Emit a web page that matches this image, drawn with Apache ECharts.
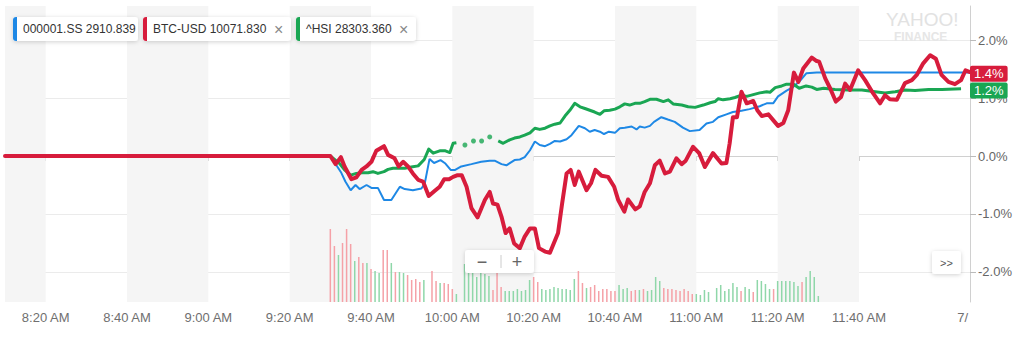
<!DOCTYPE html>
<html><head><meta charset="utf-8">
<script src="https://cdn.jsdelivr.net/npm/echarts@6/dist/echarts.min.js"></script>
<style>html,body{margin:0;padding:0;background:#fff;overflow:hidden}#c{width:1024px;height:346px}</style>
</head><body><div id="c"></div>
<script>
// ---- data (times in minutes after midnight, values in % change) ----
const xMin = 490, xMax = 727.3;
const xTicks = [500,520,540,560,580,600,620,640,660,680,700];
const tickLabels = ['8:20 AM','8:40 AM','9:00 AM','9:20 AM','9:40 AM','10:00 AM','10:20 AM','10:40 AM','11:00 AM','11:20 AM','11:40 AM'];
const edgeLabelAt = 725.5, edgeLabel = '7/';
const yTickLabels = [-2,-1,0,1,2];

const legendNames = ['000001.SS','BTC-USD','^HSI'];
const legendPrices = ['2910.839','10071.830','28303.360'];

const sseLine = [[570,0],[572.7,-0.29],[573.7,-0.44],[575.0,-0.59],[576.2,-0.50],[577.2,-0.57],[578.9,-0.50],[580.1,-0.55],[581.7,-0.55],[583.2,-0.76],[585.0,-0.76],[587.1,-0.53],[588.3,-0.57],[590.3,-0.59],[592.4,-0.56],[593.2,-0.48],[594.4,-0.05],[595.5,-0.12],[597.1,-0.07],[598.3,-0.13],[599.6,-0.24],[600.7,-0.24],[602.2,-0.18],[604.7,-0.14],[607.1,-0.10],[609.2,-0.08],[610.4,-0.08],[612.1,-0.14],[613.3,-0.16],[615.3,-0.07],[616.6,-0.06],[617.8,-0.02],[619.1,0.10],[620.3,0.25],[621.5,0.19],[622.8,0.17],[624.0,0.21],[625.2,0.26],[626.5,0.25],[628.1,0.29],[629.3,0.36],[631.1,0.52],[632.6,0.48],[633.8,0.42],[635.0,0.45],[636.3,0.42],[637.3,0.38],[638.5,0.42],[640.0,0.40],[641.2,0.48],[642.4,0.49],[644.1,0.51],[645.3,0.46],[646.1,0.51],[647.3,0.49],[648.6,0.52],[649.6,0.59],[651.4,0.67],[653.0,0.63],[654.7,0.59],[656.7,0.49],[658.4,0.43],[660.8,0.45],[662.5,0.56],[664.1,0.59],[665.4,0.67],[667.4,0.72],[669.0,0.76],[671.1,0.78],[673.1,0.81],[675.6,0.86],[677.3,0.91],[678.9,0.91],[680.1,1.03],[682.2,1.13],[683.8,1.19],[685.5,1.30],[687.1,1.43],[689.6,1.44],[727.3,1.44]];

const hsiLine = [[570,0],[572.3,-0.13],[573.5,-0.24],[575.0,-0.33],[576.4,-0.30],[577.8,-0.29],[579.3,-0.29],[580.5,-0.27],[581.7,-0.30],[583.2,-0.27],[584.2,-0.23],[585.4,-0.21],[586.8,-0.21],[588.3,-0.21],[589.9,-0.19],[591.6,-0.17],[593.1,-0.06],[594.2,0.12],[595.3,0.05],[596.9,0.09],[598.3,0.09],[599.4,0.06],[600.2,0.22],[601.0,0.23],[603.1,null],[611.3,0.26],[612.5,0.22],[614.1,0.28],[615.3,0.31],[616.6,0.33],[617.8,0.36],[619.1,0.40],[620.3,0.48],[621.5,0.46],[622.8,0.48],[624.0,0.52],[625.2,0.55],[626.5,0.57],[627.7,0.69],[628.9,0.79],[630.1,0.91],[631.4,0.85],[632.6,0.82],[633.8,0.79],[635.0,0.76],[636.3,0.72],[637.3,0.78],[638.7,0.79],[640.0,0.81],[641.2,0.85],[642.4,0.90],[643.6,0.88],[644.9,0.91],[646.1,0.91],[647.3,0.94],[648.6,0.98],[650.2,0.98],[651.9,0.94],[653.1,0.97],[654.3,0.90],[656.4,0.88],[658.0,0.85],[659.7,0.84],[661.7,0.88],[663.4,0.92],[664.6,0.94],[665.4,0.99],[666.6,0.97],[668.3,0.99],[669.5,1.01],[671.1,1.05],[672.4,1.03],[674.0,1.06],[675.6,1.09],[677.3,1.11],[678.1,1.10],[679.4,1.18],[681.0,1.21],[682.2,1.24],[683.9,1.24],[685.3,1.17],[687.0,1.21],[688.4,1.19],[689.6,1.15],[691.3,1.17],[694.1,1.15],[697.4,1.14],[700.7,1.14],[704.0,1.11],[706.4,1.09],[708.9,1.11],[711.4,1.14],[713.8,1.13],[717.1,1.15],[720.4,1.15],[725.1,1.16]];
const hsiDots = [[603.1,0.19],[605.2,0.26],[607.2,0.26],[609.2,0.33]];

const btcLine = [[490,0],[570,0],[571.3,-0.14],[572.6,-0.02],[573.5,-0.18],[575.2,-0.40],[576.4,-0.37],[577.7,-0.24],[578.9,-0.18],[580.1,-0.10],[581.3,0.09],[583.2,0.17],[584.2,0.02],[585.8,-0.04],[586.8,-0.18],[587.9,-0.10],[589.1,-0.18],[590.3,-0.30],[591.6,-0.41],[592.8,-0.44],[594.2,-0.69],[595.7,-0.60],[596.9,-0.53],[598.0,-0.40],[599.2,-0.40],[600.2,-0.36],[601.3,-0.33],[602.3,-0.33],[603.5,-0.53],[604.7,-0.90],[606.2,-1.06],[608.0,-0.76],[609.2,-0.62],[610.0,-0.82],[611.1,-0.84],[612.1,-1.05],[613.1,-1.33],[614.1,-1.25],[615.2,-1.51],[616.6,-1.59],[617.8,-1.39],[619.1,-1.25],[620.3,-1.25],[621.3,-1.59],[622.8,-1.65],[624.0,-1.67],[626.0,-1.33],[627.0,-0.82],[628.1,-0.30],[629.1,-0.24],[630.1,-0.50],[631.1,-0.27],[633.0,-0.59],[634.1,-0.47],[635.2,-0.24],[636.7,-0.34],[638.3,-0.36],[639.8,-0.53],[640.8,-0.76],[642.3,-0.96],[643.2,-0.75],[645.0,-0.92],[646.1,-0.87],[647.3,-0.62],[648.6,-0.47],[649.8,-0.16],[651.0,-0.08],[652.3,-0.30],[653.5,-0.27],[655.1,-0.04],[656.4,-0.14],[657.4,-0.08],[659.2,0.16],[660.7,0.05],[662.1,-0.19],[664.1,0.05],[666.2,-0.13],[667.4,-0.12],[668.2,0.22],[669.0,0.67],[670.0,0.67],[671.1,1.11],[672.4,0.91],[674.0,0.95],[675.0,0.79],[676.1,0.69],[677.7,0.72],[678.9,0.62],[680.1,0.52],[681.4,0.57],[682.6,0.79],[684.0,1.44],[685.1,1.28],[686.3,1.51],[688.4,1.70],[689.6,1.64],[690.2,1.63],[691.7,1.34],[692.9,1.17],[694.3,0.94],[695.6,1.02],[696.6,1.25],[697.8,1.14],[699.8,1.48],[701.5,1.31],[703.5,1.08],[705.2,0.91],[706.4,1.05],[707.6,0.98],[709.3,0.97],[711.3,1.26],[713.0,1.31],[714.2,1.40],[715.8,1.60],[717.5,1.74],[718.9,1.68],[720.3,1.40],[722.0,1.28],[723.6,1.24],[725.1,1.31],[726.2,1.48],[727.3,1.45]];

// volume of 000001.SS, one bar per minute from 9:30 (570)
const volStart = 570;
const volume = [73,56,47,59,73,58,41,45,39,39,33,31,29,52,52,39,30,30,29,27,22,23,20,22,0,31,21,19,19,18,13,8,0,38,35,30,25,32,28,26,12,29,15,11,11,11,13,11,12,22,25,20,13,12,13,15,14,13,13,12,23,31,19,14,15,17,11,13,13,11,11,17,13,14,11,12,12,13,11,12,25,21,14,13,13,12,11,13,11,8,8,7,12,10,0,14,17,11,13,19,15,11,15,13,10,22,21,18,13,13,21,21,21,21,20,16,20,25,31,25,6];
const volDir = 'ddudddudduduudduduudddduudduddduuuuuuuuuddduuuuuuudduuuuuuuuudduddddddduuudduduuuudddddddduuuuuuuuuuuduuduuuuduuuuuuduuuud';

const badgeValues = [1.42, 1.13];
const badgeTexts = ['1.4%','1.2%'];

// ---- build ----
const COL = {blue:'#1e88e5', red:'#d71c3c', green:'#1aa653'};
const FONT = '"Liberation Sans", Arial, Helvetica, sans-serif';
const TOP = 100;

const bandEdges = [xMin].concat(xTicks);
const bands = [];
for (let i = 0; i < bandEdges.length - 1; i += 2) bands.push([{xAxis: bandEdges[i]}, {xAxis: bandEdges[i+1]}]);

const volData = volume.map((v, i) => ({value: [volStart + i, v], itemStyle: {color: volDir[i] === 'u' ? '#8fd7a9' : '#f5a1a7'}}));

const shadowBox = (w, h) => ({type:'rect', z:TOP, shape:{x:0,y:0,width:w,height:h,r:3}, style:{fill:'#fff', shadowBlur:4, shadowColor:'rgba(0,0,0,0.18)', shadowOffsetY:1}});

function chip(x, w, color, name, price, closable) {
  const ch = [
    shadowBox(w, 24),
    {type:'rect', z:TOP+1, shape:{x:0,y:0,width:4,height:24,r:[3,0,0,3]}, style:{fill:color}},
    {type:'text', z:TOP+1, x:10, y:12, style:{text: name + ' ' + price, font:'12px ' + FONT, fill:'#333', verticalAlign:'middle'}}
  ];
  if (closable) ch.push({type:'text', z:TOP+1, x:w-17, y:12, style:{text:'\u00d7', font:'16px ' + FONT, fill:'#888', verticalAlign:'middle'}});
  return {type:'group', x:x, y:17, z:TOP, children:ch};
}

function badge(value, text, color) {
  return {silent:true, symbol:'none', lineStyle:{color:'rgba(0,0,0,0)', width:1}, data:[{yAxis:value}],
    label:{show:true, position:'end', distance:0, formatter:text, backgroundColor:color, color:'#fff', fontSize:13, padding:[2,4,1,4], borderRadius:2}};
}

const chart = echarts.init(document.getElementById('c'), null, {renderer:'svg'});
chart.setOption({
  animation:false,
  textStyle:{fontFamily:FONT},
  grid:{left:5, right:54, top:6, bottom:44},
  xAxis:[{
    type:'value', min:xMin, max:xMax,
    splitLine:{show:false},
    axisLine:{show:true, lineStyle:{color:'#d0d0d0'}},
    axisTick:{show:true, customValues:xTicks, length:5, lineStyle:{color:'#d0d0d0'}},
    axisLabel:{customValues:xTicks.concat([edgeLabelAt]), color:'#6f6f6f', fontSize:13, margin:9,
      formatter:(v)=>{ const i = xTicks.indexOf(v); return i >= 0 ? tickLabels[i] : (Math.abs(v-edgeLabelAt)<0.01 ? edgeLabel : ''); }}
  }],
  yAxis:[{
    type:'value', position:'right', min:-2.52, max:2.59,
    axisLine:{show:true, lineStyle:{color:'#d0d0d0'}},
    axisTick:{show:true, length:6, lineStyle:{color:'#bbb'}, customValues:yTickLabels},
    axisLabel:{customValues:yTickLabels, color:'#666', fontSize:13, margin:8,
      formatter:(v)=>v.toFixed(1)+'%'},
    splitLine:{show:true, lineStyle:{color:'#ebebeb'}}
  },{
    type:'value', min:0, max:296, show:false
  }],
  series:[
    {type:'line', data:[], z:1, silent:true,
     markArea:{silent:true, itemStyle:{color:'#f5f5f5'}, data:bands}},
    {type:'bar', yAxisIndex:1, data:volData, barWidth:1.5, z:2, silent:true},
    {type:'line', name:'000001.SS', data:sseLine, symbol:'none', z:3, lineStyle:{color:COL.blue, width:2}},
    {type:'line', name:'^HSI', data:hsiLine, symbol:'none', z:4, connectNulls:false, lineStyle:{color:COL.green, width:3, join:'round'},
     markLine:badge(badgeValues[1], badgeTexts[1], COL.green)},
    {type:'scatter', data:hsiDots, symbolSize:5, z:4, itemStyle:{color:COL.green}},
    {type:'line', name:'BTC-USD', data:btcLine, symbol:'none', z:5, lineStyle:{color:COL.red, width:4, join:'round', cap:'round'},
     markLine:badge(badgeValues[0], badgeTexts[0], COL.red)}
  ],
  graphic:[
    {type:'text', x:886, y:19.5, z:TOP, style:{text:'YAHOO!', font:'19px ' + FONT, fill:'#e2e2e2', verticalAlign:'middle'}},
    {type:'text', x:894, y:36.5, z:TOP, style:{text:'FINANCE', font:'bold 12px ' + FONT, fill:'#e6e6e6', verticalAlign:'middle'}},
    chip(13, 125, COL.blue, legendNames[0], legendPrices[0], false),
    chip(143, 148, COL.red, legendNames[1], legendPrices[1], true),
    chip(296, 120, COL.green, legendNames[2], legendPrices[2], true),
    {type:'group', x:465, y:250, z:TOP, children:[
      shadowBox(69, 23),
      {type:'text', z:TOP+1, x:17, y:11.5, style:{text:'\u2212', font:'18px ' + FONT, fill:'#666', align:'center', verticalAlign:'middle'}},
      {type:'line', z:TOP+1, shape:{x1:36,y1:5,x2:36,y2:18}, style:{stroke:'#ccc', lineWidth:1}},
      {type:'text', z:TOP+1, x:52, y:11.5, style:{text:'+', font:'18px ' + FONT, fill:'#666', align:'center', verticalAlign:'middle'}}
    ]},
    {type:'group', x:932, y:251, z:TOP, children:[
      shadowBox(29, 23),
      {type:'text', z:TOP+1, x:14.5, y:11.5, style:{text:'>>', font:'11px ' + FONT, fill:'#555', align:'center', verticalAlign:'middle'}}
    ]}
  ]
});
</script>
</body></html>
